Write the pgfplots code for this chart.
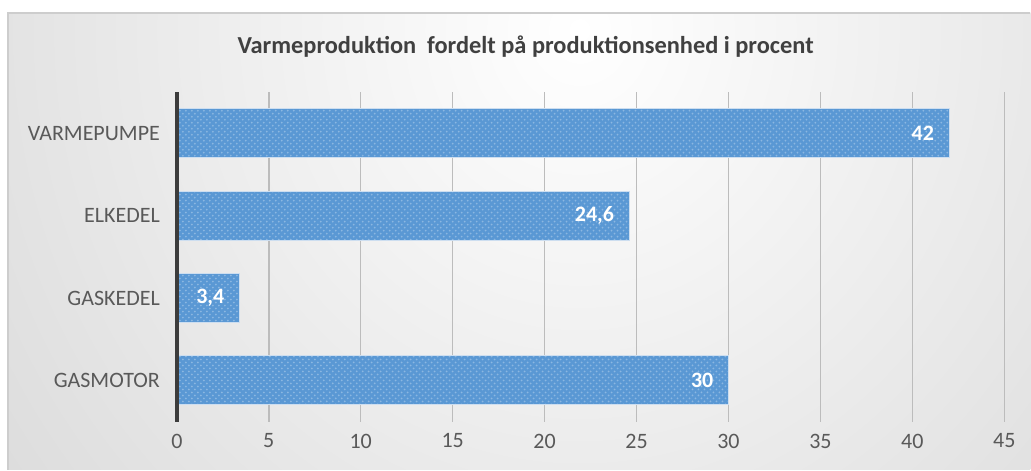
\documentclass[border=0pt]{standalone}
\usepackage{pgfplots}
\pgfplotsset{compat=1.18}
\usetikzlibrary{patterns}
\usepackage{fontspec}
\setmainfont{Carlito}
\definecolor{barblue}{RGB}{90,152,212}
\definecolor{barborder}{RGB}{205,222,240}
\definecolor{gridgray}{RGB}{188,188,188}
\definecolor{labgray}{RGB}{89,89,89}
\definecolor{titlegray}{RGB}{64,64,64}
\definecolor{axisdark}{RGB}{60,60,60}
\definecolor{bordergray}{RGB}{205,205,205}
\definecolor{bgdark}{RGB}{192,192,192}
\begin{document}
\begin{tikzpicture}[x=0.5pt,y=0.5pt]
\fill[white] (0,0) rectangle (1031,470);
\begin{scope}
\clip (8,0) rectangle (1031,457);
\shade[inner color=white, outer color=bgdark] (580,440) ellipse (1300 and 1400);
\end{scope}
\draw[bordergray, line width=0.75pt] (8,0) -- (8,457) -- (1031,457);
\node[font=\bfseries\fontsize{12.2}{14}\selectfont, text=titlegray] at (526,423) {Varmeproduktion\ \ fordelt på produktionsenhed i procent};
\begin{axis}[
  at={(88.5pt,24pt)}, anchor=south west,
  scale only axis, width=414pt, height=165pt,
  xbar,
  xmin=0, xmax=45, ymin=-0.5, ymax=3.5,
  ytick={0,1,2,3},
  yticklabels={GASMOTOR,GASKEDEL,ELKEDEL,VARMEPUMPE},
  xtick={0,5,...,45},
  axis x line*=bottom, axis y line*=left,
  x axis line style={draw=none},
  y axis line style={draw=none},
  major tick length=0pt,
  xmajorgrids,
  grid style={gridgray, line width=0.75pt},
  tick label style={font=\fontsize{11}{12}\selectfont, text=labgray},
  /pgf/number format/assume math mode=true,
  yticklabel style={xshift=-5pt},
  xticklabel style={yshift=-2.5pt},
  clip=false,
]
\addplot[fill=barblue, draw=barborder, line width=0.5pt, bar width=24.5pt,
  bar shift=0pt,
  postaction={pattern=crosshatch dots, pattern color=barblue!70!white},
  nodes near coords, point meta=explicit symbolic,
  every node near coord/.append style={anchor=east, xshift=-4pt, text=white, font=\bfseries\fontsize{11}{12}\selectfont}]
  table[x=v, y=c, meta=l] {
c v l
0 30 30
1 3.4 3,4
2 24.6 24,6
3 42 42
};
\draw[axisdark, line width=2.2pt] (axis cs:0,-0.5) -- (axis cs:0,3.5);
\end{axis}
\end{tikzpicture}
\end{document}
